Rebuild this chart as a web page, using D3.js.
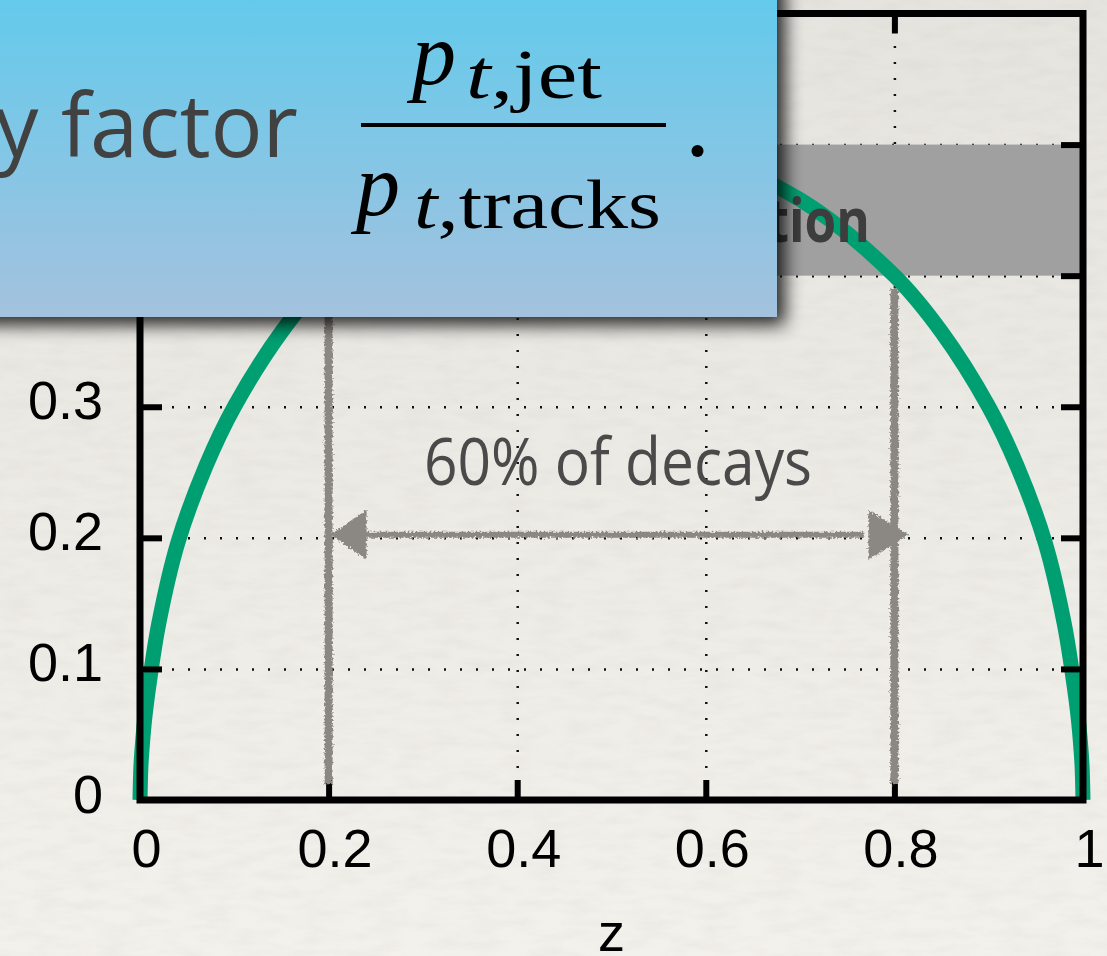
<!DOCTYPE html>
<html><head><meta charset="utf-8">
<script src="https://cdn.jsdelivr.net/npm/d3@7"></script>
<style>html,body{margin:0;padding:0;overflow:hidden;background:#efede8}</style>
</head><body>
<svg id="c" width="1107" height="956"></svg>
<script>
// ---- data ----
const zValues       = [0, 0.001, 0.0025, 0.005, 0.01, 0.02, 0.04, 0.07, 0.1, 0.15, 0.2, 0.3, 0.4, 0.5, 0.6, 0.7, 0.8, 0.85, 0.9, 0.93, 0.96, 0.98, 0.99, 0.995, 0.9975, 0.999, 1];
const densityValues = [0, 0.026, 0.042, 0.062, 0.09, 0.135, 0.196, 0.255, 0.3, 0.357, 0.4, 0.458, 0.49, 0.5, 0.49, 0.458, 0.4, 0.357, 0.3, 0.255, 0.196, 0.135, 0.09, 0.062, 0.042, 0.026, 0];
const xTicks = [0, 0.2, 0.4, 0.6, 0.8, 1];
const xTickLabels = ["0", "0.2", "0.4", "0.6", "0.8", "1"];
const yTicks = [0, 0.1, 0.2, 0.3, 0.4, 0.5, 0.6];
const yTickLabels = ["0", "0.1", "0.2", "0.3", "0.4", "0.5", "0.6"];
const bandRange = [0.4, 0.5];
const bandLabel = "Fragmentation";
const spanRange = [0.2, 0.8];
const spanArrowY = 0.2;
const spanLineBottom = 0.012;
const spanLineTop = 0.39;
const spanLabel = "60% of decays";
const xAxisTitle = "z";
const boxText = "y factor";
const numBase = "p", numSubItalic = "t", numSubRoman = ",jet";
const denBase = "p", denSubItalic = "t", denSubRoman = ",tracks";

// ---- layout ----
const W = 1107, H = 956;
const x = d3.scaleLinear().domain([0, 1]).range([140, 1083]);
const y = d3.scaleLinear().domain([0, 0.6]).range([800, 13.5]);
const svg = d3.select("#c");
const defs = svg.append("defs");

const pg = defs.append("linearGradient").attr("id", "paper").attr("x1", 0).attr("y1", 0).attr("x2", 0).attr("y2", 1);
pg.append("stop").attr("offset", "0").attr("stop-color", "#e6e4df");
pg.append("stop").attr("offset", "1").attr("stop-color", "#f3f1ec");

const bg = defs.append("linearGradient").attr("id", "boxg").attr("x1", 0).attr("y1", 0).attr("x2", 0).attr("y2", 1);
bg.append("stop").attr("offset", "0").attr("stop-color", "#5ccbee");
bg.append("stop").attr("offset", "1").attr("stop-color", "#a4c2de");

const noise = defs.append("filter").attr("id", "noise").attr("filterUnits", "userSpaceOnUse")
  .attr("x", 0).attr("y", 0).attr("width", W).attr("height", H);
noise.append("feTurbulence").attr("type", "fractalNoise").attr("baseFrequency", "0.03 0.1").attr("numOctaves", 3).attr("seed", 4);
noise.append("feColorMatrix").attr("type", "matrix")
  .attr("values", "0 0 0 0 0.45  0 0 0 0 0.43  0 0 0 0 0.4  0 0 0 -1.6 1.0");

const rough = defs.append("filter").attr("id", "rough").attr("filterUnits", "userSpaceOnUse")
  .attr("x", 0).attr("y", 0).attr("width", W).attr("height", H);
rough.append("feTurbulence").attr("type", "fractalNoise").attr("baseFrequency", "0.5").attr("numOctaves", 2).attr("seed", 7).attr("result", "n");
rough.append("feDisplacementMap").attr("in", "SourceGraphic").attr("in2", "n").attr("scale", 6)
  .attr("xChannelSelector", "R").attr("yChannelSelector", "G");

const sh = defs.append("filter").attr("id", "shadow").attr("filterUnits", "userSpaceOnUse")
  .attr("x", -100).attr("y", -100).attr("width", W + 200).attr("height", H + 200);
sh.append("feGaussianBlur").attr("in", "SourceAlpha").attr("stdDeviation", 9).attr("result", "b");
sh.append("feOffset").attr("in", "b").attr("dx", 8).attr("dy", 8).attr("result", "o");
sh.append("feComponentTransfer").attr("in", "o").attr("result", "o2")
  .append("feFuncA").attr("type", "linear").attr("slope", 0.85);
const mg = sh.append("feMerge");
mg.append("feMergeNode").attr("in", "o2");
mg.append("feMergeNode").attr("in", "SourceGraphic");

// background paper
svg.append("rect").attr("width", W).attr("height", H).attr("fill", "url(#paper)");
svg.append("rect").attr("width", W).attr("height", H).attr("filter", "url(#noise)").attr("opacity", 0.12);

const innerW = x(1) - x(0), innerH = y(0) - y(0.6);

// grid
svg.append("g").attr("transform", `translate(0,${y(0)})`)
  .call(d3.axisBottom(x).tickValues(xTicks.slice(1, -1)).tickSize(-innerH).tickFormat(""))
  .call(g => g.select(".domain").remove())
  .call(g => g.selectAll("line").attr("stroke", "#111").attr("stroke-width", 2.5).attr("stroke-dasharray", "2,14"));
svg.append("g").attr("transform", `translate(${x(0)},0)`)
  .call(d3.axisLeft(y).tickValues(yTicks.slice(1, -1)).tickSize(-innerW).tickFormat(""))
  .call(g => g.select(".domain").remove())
  .call(g => g.selectAll("line").attr("stroke", "#111").attr("stroke-width", 2.5).attr("stroke-dasharray", "2,14"));

// band
svg.append("rect").attr("x", x(0)).attr("y", y(bandRange[1]))
  .attr("width", innerW).attr("height", y(bandRange[0]) - y(bandRange[1])).attr("fill", "#a0a0a0");

// curve
const pts = zValues.map((z, i) => ({ z, v: densityValues[i] }));
const line = d3.line().x(d => x(d.z)).y(d => y(d.v)).curve(d3.curveCatmullRom.alpha(0.5));
svg.append("path").datum(pts).attr("d", line).attr("fill", "none")
  .attr("stroke", "#009f71").attr("stroke-width", 15).attr("stroke-linecap", "butt");

// band label
svg.append("text").attr("transform", `translate(870,242) scale(0.84,1)`)
  .attr("text-anchor", "end").attr("font-family", "'Open Sans', sans-serif").attr("font-weight", 700)
  .attr("font-size", 61).attr("fill", "#3d3d3d").text(bandLabel);

// frame ticks (inward, all four sides)
const tickStyle = g => g.call(s => s.select(".domain").remove())
  .call(s => s.selectAll("line").attr("stroke", "#000").attr("stroke-width", 6));
svg.append("g").attr("transform", `translate(0,${y(0)})`)
  .call(d3.axisBottom(x).tickValues(xTicks.slice(1, -1)).tickSize(-20).tickFormat("")).call(tickStyle);
svg.append("g").attr("transform", `translate(0,${y(0.6)})`)
  .call(d3.axisTop(x).tickValues(xTicks.slice(1, -1)).tickSize(-20).tickFormat("")).call(tickStyle);
svg.append("g").attr("transform", `translate(${x(0)},0)`)
  .call(d3.axisLeft(y).tickValues(yTicks.slice(1, -1)).tickSize(-22).tickFormat("")).call(tickStyle);
svg.append("g").attr("transform", `translate(${x(1)},0)`)
  .call(d3.axisRight(y).tickValues(yTicks.slice(1, -1)).tickSize(-22).tickFormat("")).call(tickStyle);

// frame
svg.append("rect").attr("x", x(0)).attr("y", y(0.6)).attr("width", innerW).attr("height", innerH)
  .attr("fill", "none").attr("stroke", "#000").attr("stroke-width", 7);

// tick labels
svg.append("g").attr("transform", `translate(6,${y(0)})`)
  .call(d3.axisBottom(x).tickValues(xTicks).tickSize(0).tickPadding(0).tickFormat((d, i) => xTickLabels[i]))
  .call(g => g.select(".domain").remove())
  .call(g => g.selectAll("text").attr("dy", null).attr("y", 67).attr("font-family", "'Liberation Sans', Arial, sans-serif")
    .attr("font-size", 54).attr("fill", "#000"));
svg.append("g").attr("transform", `translate(103,0)`)
  .call(d3.axisLeft(y).tickValues(yTicks).tickSize(0).tickPadding(0).tickFormat((d, i) => yTickLabels[i]))
  .call(g => g.select(".domain").remove())
  .call(g => g.selectAll("text").attr("dy", null).attr("y", 12).attr("x", 0).attr("font-family", "'Liberation Sans', Arial, sans-serif")
    .attr("font-size", 54).attr("fill", "#000"));

svg.append("text").attr("x", (x(0) + x(1)) / 2).attr("y", 951).attr("text-anchor", "middle")
  .attr("font-family", "'Liberation Sans', Arial, sans-serif").attr("font-size", 54).attr("fill", "#000").text(xAxisTitle);

// span annotation
const gray = "#8b8782";
const ann = svg.append("g").attr("filter", "url(#rough)");
spanRange.forEach(z => {
  ann.append("line").attr("x1", x(z)).attr("x2", x(z)).attr("y1", y(spanLineBottom)).attr("y2", y(spanLineTop))
    .attr("stroke", gray).attr("stroke-width", 8);
});
const ay = y(spanArrowY) - 3;
ann.append("line").attr("x1", x(spanRange[0]) + 30).attr("x2", x(spanRange[1]) - 30).attr("y1", ay).attr("y2", ay)
  .attr("stroke", gray).attr("stroke-width", 6);
ann.append("path").attr("d", `M${x(spanRange[0]) + 2},${ay} L${x(spanRange[0]) + 38},${ay - 25} L${x(spanRange[0]) + 38},${ay + 25} Z`)
  .attr("fill", gray);
ann.append("path").attr("d", `M${x(spanRange[1]) + 14},${ay} L${x(spanRange[1]) - 26},${ay - 25} L${x(spanRange[1]) - 26},${ay + 25} Z`)
  .attr("fill", gray);

svg.append("text").attr("x", 424).attr("y", 485).attr("font-family", "'Open Sans', sans-serif")
  .attr("font-size", 66).attr("fill", "#4a4a4a").attr("textLength", 388).attr("lengthAdjust", "spacingAndGlyphs").text(spanLabel);

// overlay box
svg.append("rect").attr("x", -40).attr("y", -40).attr("width", 817).attr("height", 357)
  .attr("fill", "url(#boxg)").attr("filter", "url(#shadow)");

svg.append("text").attr("x", -5).attr("y", 157).attr("font-family", "'Open Sans', sans-serif")
  .attr("font-size", 88).attr("fill", "#414141").attr("textLength", 303).attr("lengthAdjust", "spacingAndGlyphs").text(boxText);

const serif = "'Liberation Serif', 'Times New Roman', serif";
svg.append("text").attr("x", 412).attr("y", 84).attr("font-family", serif).attr("font-style", "italic")
  .attr("font-size", 88).attr("fill", "#000").text(numBase);
const ns = svg.append("text").attr("x", 466).attr("y", 98).attr("font-family", serif).attr("font-size", 70).attr("fill", "#000")
  .attr("textLength", 136).attr("lengthAdjust", "spacingAndGlyphs");
ns.append("tspan").attr("font-style", "italic").text(numSubItalic);
ns.append("tspan").text(numSubRoman);

svg.append("rect").attr("x", 361).attr("y", 123).attr("width", 305).attr("height", 4).attr("fill", "#000");

svg.append("text").attr("x", 356).attr("y", 215).attr("font-family", serif).attr("font-style", "italic")
  .attr("font-size", 88).attr("fill", "#000").text(denBase);
const ds = svg.append("text").attr("x", 414).attr("y", 228).attr("font-family", serif).attr("font-size", 70).attr("fill", "#000")
  .attr("textLength", 247).attr("lengthAdjust", "spacingAndGlyphs");
ds.append("tspan").attr("font-style", "italic").text(denSubItalic);
ds.append("tspan").text(denSubRoman);

svg.append("circle").attr("cx", 697.5).attr("cy", 151).attr("r", 6).attr("fill", "#000");
</script>
</body></html>
